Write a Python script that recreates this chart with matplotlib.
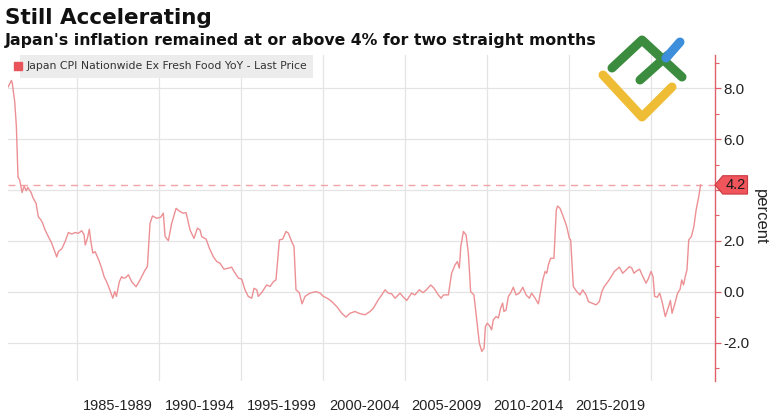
import matplotlib
matplotlib.use("Agg")
import matplotlib.pyplot as plt
from matplotlib.lines import Line2D
from matplotlib.patches import Polygon
from matplotlib.transforms import blended_transform_factory

# ====== DATA ======
years = [
    1980.8, 1981.0, 1981.05, 1981.2, 1981.3, 1981.4, 1981.5, 1981.65, 1981.77, 1981.9,
    1982.0, 1982.2, 1982.33, 1982.5, 1982.64, 1982.8, 1982.9, 1983.05, 1983.25, 1983.45,
    1983.6, 1983.76, 1983.86, 1984.07, 1984.27, 1984.47, 1984.68, 1984.88, 1985.08, 1985.29,
    1985.43, 1985.5, 1985.63, 1985.75, 1985.83, 1985.96, 1986.1, 1986.24, 1986.36, 1986.5,
    1986.65, 1986.8, 1987.0, 1987.18, 1987.3, 1987.4, 1987.58, 1987.72, 1987.82, 1987.95,
    1988.13, 1988.33, 1988.6, 1988.84, 1989.15, 1989.29, 1989.45, 1989.6, 1989.86, 1990.1,
    1990.26, 1990.37, 1990.57, 1990.77, 1991.04, 1991.28, 1991.48, 1991.65, 1991.89, 1992.13,
    1992.34, 1992.5, 1992.6, 1992.87, 1993.07, 1993.31, 1993.52, 1993.72, 1993.96, 1994.23,
    1994.43, 1994.57, 1994.84, 1995.04, 1995.24, 1995.44, 1995.65, 1995.79, 1995.96, 1996.05,
    1996.26, 1996.56, 1996.77, 1996.97, 1997.13, 1997.34, 1997.54, 1997.74, 1997.89, 1998.09,
    1998.23, 1998.35, 1998.55, 1998.72, 1998.9, 1999.2, 1999.57, 1999.82, 2000.02, 2000.26,
    2000.53, 2000.84, 2001.14, 2001.4, 2001.65, 2001.95, 2002.26, 2002.56, 2002.87, 2003.07,
    2003.37, 2003.58, 2003.78, 2003.98, 2004.19, 2004.39, 2004.7, 2004.9, 2005.1, 2005.4,
    2005.6, 2005.87, 2006.1, 2006.3, 2006.57, 2006.77, 2007.03, 2007.2, 2007.34, 2007.64,
    2007.84, 2008.05, 2008.19, 2008.31, 2008.4, 2008.56, 2008.72, 2008.86, 2009.0, 2009.2,
    2009.37, 2009.53, 2009.68, 2009.82, 2009.9, 2010.02, 2010.18, 2010.28, 2010.38, 2010.55,
    2010.69, 2010.83, 2010.95, 2011.03, 2011.16, 2011.3, 2011.44, 2011.6, 2011.77, 2011.97,
    2012.18, 2012.38, 2012.58, 2012.72, 2012.93, 2013.13, 2013.23, 2013.4, 2013.54, 2013.64,
    2013.74, 2013.88, 2014.08, 2014.22, 2014.3, 2014.45, 2014.65, 2014.86, 2015.02, 2015.1,
    2015.26, 2015.47, 2015.67, 2015.83, 2016.04, 2016.18, 2016.38, 2016.65, 2016.85, 2017.0,
    2017.15, 2017.45, 2017.76, 2018.07, 2018.27, 2018.48, 2018.68, 2018.83, 2018.96, 2019.15,
    2019.3, 2019.5, 2019.7, 2019.85, 2020.0, 2020.12, 2020.22, 2020.38, 2020.53, 2020.67,
    2020.87, 2021.04, 2021.18, 2021.28, 2021.46, 2021.62, 2021.77, 2021.87, 2021.98, 2022.08,
    2022.19, 2022.3, 2022.46, 2022.61, 2022.75, 2022.91, 2023.02,
]
cpi = [
    8.05, 8.3, 8.2, 7.46, 6.5, 4.5, 4.4, 3.9, 4.15, 3.97,
    4.1, 3.9, 3.67, 3.48, 2.95, 2.82, 2.7, 2.43, 2.17, 1.92,
    1.65, 1.37, 1.58, 1.69, 1.97, 2.33, 2.27, 2.33, 2.3, 2.4,
    2.24, 1.84, 2.1, 2.46, 2.04, 1.52, 1.58, 1.38, 1.19, 0.93,
    0.6, 0.4, 0.08, -0.25, 0.01, -0.18, 0.4, 0.6, 0.54, 0.55,
    0.67, 0.4, 0.2, 0.47, 0.86, 0.99, 2.69, 2.98, 2.89, 2.93,
    3.09, 2.17, 2.01, 2.69, 3.28, 3.15, 3.09, 3.11, 2.43, 2.1,
    2.5, 2.43, 2.17, 2.07, 1.71, 1.38, 1.19, 1.12, 0.89, 0.93,
    0.97, 0.8, 0.54, 0.5, 0.08, -0.18, -0.25, 0.14, 0.08, -0.18,
    -0.03, 0.27, 0.21, 0.4, 0.47, 2.04, 2.07, 2.37, 2.3, 1.97,
    1.78, 0.08, -0.03, -0.47, -0.18, -0.05, 0.01, -0.05, -0.18, -0.25,
    -0.38, -0.58, -0.84, -0.99, -0.84, -0.77, -0.86, -0.9, -0.77, -0.64,
    -0.31, -0.12, 0.08, -0.05, -0.08, -0.25, -0.05, -0.21, -0.34, -0.05,
    -0.12, 0.08, -0.03, 0.08, 0.27, 0.14, -0.12, -0.25, -0.12, -0.12,
    0.73, 1.06, 1.19, 0.93, 1.78, 2.37, 2.24, 1.52, 0.01, -0.12,
    -1.1, -2.01, -2.34, -2.21, -1.36, -1.23, -1.36, -1.49, -1.1, -0.97,
    -1.03, -0.64, -0.44, -0.77, -0.71, -0.18, -0.05, 0.18, -0.12, -0.05,
    0.18, -0.12, -0.25, -0.05, -0.25, -0.47, -0.12, 0.47, 0.8, 0.73,
    1.06, 1.32, 1.32, 3.2, 3.37, 3.28, 2.95, 2.56, 2.1, 2.04,
    0.21, 0.01, -0.12, 0.08, -0.12, -0.38, -0.44, -0.51, -0.38, 0.01,
    0.21, 0.47, 0.8, 0.97, 0.73, 0.86, 0.99, 0.93, 0.73, 0.84,
    0.89, 0.6, 0.34, 0.54, 0.8, 0.6, -0.18, -0.21, -0.05, -0.38,
    -0.97, -0.64, -0.34, -0.84, -0.44, -0.05, 0.1, 0.47, 0.27, 0.58,
    0.86, 2.04, 2.17, 2.56, 3.22, 3.74, 4.2,
]
period_starts = [1985, 1990, 1995, 2000, 2005, 2010, 2015, 2020]
period_labels = ["1985-1989", "1990-1994", "1995-1999", "2000-2004",
                 "2005-2009", "2010-2014", "2015-2019"]
y_ticks = [-2, 0, 2, 4, 6, 8]
last_price = cpi[-1]

LINE = "#ec9094"
AXRED = "#e0606a"
GRID = "#e4e4e4"
AXFONT = "Liberation Sans"

# ====== FIGURE ======
fig = plt.figure(figsize=(7.73, 4.12), dpi=100)
ax = fig.add_axes([8 / 773, 1 - 381 / 412, 707 / 773, 326 / 412])

ax.plot(years, cpi, color=LINE, linewidth=1.0, zorder=3)
ax.axhline(last_price, color="#f3a3a6", linewidth=1.0, linestyle=(0, (5, 4)), zorder=2)

ax.set_xlim(1980.79, 2023.9)
ax.set_ylim(-3.5, 9.3)

# x axis: gridlines at period starts, labels centred in each period
ax.set_xticks(period_starts)
ax.set_xticklabels([])
ax.set_xticks([s + 2.5 for s in period_starts[:-1]], minor=True)
ax.set_xticklabels(period_labels, minor=True, fontfamily=AXFONT)
ax.tick_params(axis="x", which="both", length=0, labelsize=10.5, colors="#222222", pad=13)
ax.xaxis.grid(True, which="major", color=GRID, linewidth=0.9)

# y axis on the right (the 4.0 label sits under the last-price tag)
ax.yaxis.tick_right()
ax.set_yticks(y_ticks)
ax.set_yticklabels(["" if v == 4 else f"{v:.1f}" for v in y_ticks], fontfamily=AXFONT)
ax.set_yticks([-3, -1, 1, 3, 5, 7, 9], minor=True)
ax.tick_params(axis="y", which="major", length=4, width=0.9, color=AXRED,
               labelsize=11, labelcolor="#222222", pad=2)
ax.tick_params(axis="y", which="minor", length=3, width=0.8, color=AXRED)
ax.yaxis.grid(True, which="major", color=GRID, linewidth=0.9)
ax.text(1.064, 0.505, "percent", transform=ax.transAxes, rotation=-90, fontsize=12,
        fontfamily=AXFONT, color="#222222", ha="center", va="center")

for side in ["left", "top", "bottom"]:
    ax.spines[side].set_visible(False)
ax.spines["right"].set_color(AXRED)
ax.spines["right"].set_linewidth(1.0)
ax.set_axisbelow(True)

# last price tag
trans = blended_transform_factory(ax.transAxes, ax.transData)
tag = Polygon([(1.0, last_price), (1.011, last_price + 0.36), (1.046, last_price + 0.36),
               (1.046, last_price - 0.36), (1.011, last_price - 0.36)],
              closed=True, transform=trans, clip_on=False, facecolor="#f0555c",
              edgecolor="#c83a40", linewidth=0.8, zorder=10)
ax.add_patch(tag)
ax.text(1.0295, last_price, f"{last_price:.1f}", transform=trans, ha="center", va="center",
        fontsize=10.5, fontfamily=AXFONT, color="#1a1a1a", zorder=11, clip_on=False)

# legend strip
ax.text(0.0255, 0.965, "Japan CPI Nationwide Ex Fresh Food YoY - Last Price",
        transform=ax.transAxes, fontsize=7.8, color="#333333", va="center", ha="left",
        bbox=dict(boxstyle="square,pad=0.6", facecolor="#ececec", edgecolor="none"))
ax.plot([0.0135], [0.965], marker="s", markersize=5.5, color="#e8545a",
        transform=ax.transAxes, clip_on=False, zorder=12)

# titles
fig.text(5 / 773, 1 - 18 / 412, "Still Accelerating", fontsize=15.5, fontweight="bold",
         color="#111111", va="center", ha="left")
fig.text(5 / 773, 1 - 41 / 412,
         "Japan's inflation remained at or above 4% for two straight months",
         fontsize=11.3, fontweight="bold", color="#111111", va="center", ha="left")

# logo watermark
def stroke(xs, ys, color):
    fig.add_artist(Line2D([x / 773 for x in xs], [1 - y / 412 for y in ys],
                          transform=fig.transFigure, color=color, linewidth=6.5,
                          solid_capstyle="round", solid_joinstyle="round", zorder=20))

stroke([603, 642, 672], [75, 117, 87], "#efbd35")
stroke([612, 642, 682], [68, 40, 77], "#3b8c3f")
stroke([640, 668], [80, 55], "#3b8c3f")
stroke([666, 680], [58, 42], "#3d8fdc")

plt.savefig("out.png", dpi=100)
plt.close()
